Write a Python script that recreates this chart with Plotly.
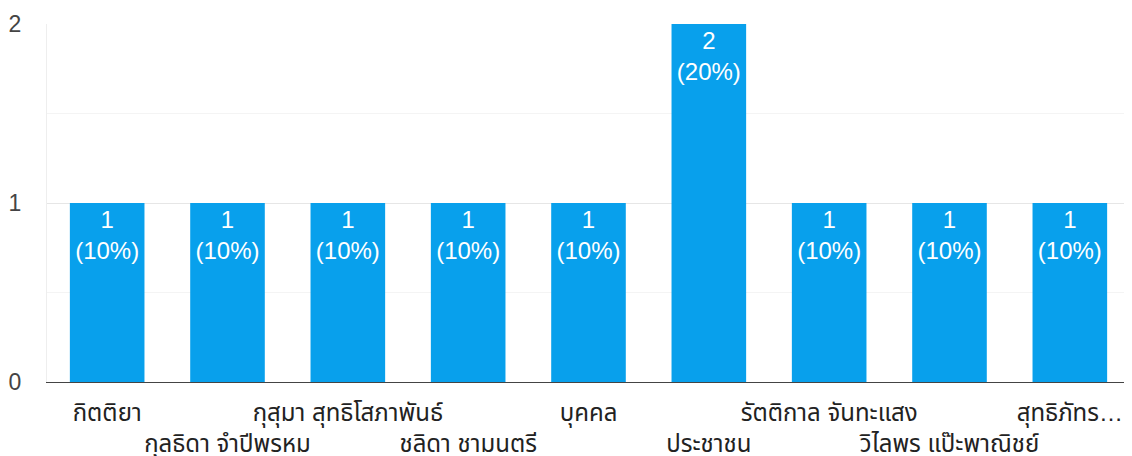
import plotly.graph_objects as go

categories = ["กิตติยา", "กุลธิดา จำปีพรหม", "กุสุมา สุทธิโสภาพันธ์", "ชลิดา ชามนตรี",
              "บุคคล", "ประชาชน", "รัตติกาล จันทะแสง", "วิไลพร แป๊ะพาณิชย์", "สุทธิภัทร…"]
counts = [1, 1, 1, 1, 1, 2, 1, 1, 1]
percents = [10, 10, 10, 10, 10, 20, 10, 10, 10]
y_ticks = [0, 1, 2]

tick_text = [c if i % 2 == 0 else "<br>" + c for i, c in enumerate(categories)]
bar_text = [f"{c}<br>({p}%)" for c, p in zip(counts, percents)]

font_family = "Arial, 'Liberation Sans', 'Noto Sans Thai', sans-serif"

fig = go.Figure(go.Bar(
    x=categories, y=counts, text=bar_text,
    textposition="inside", insidetextanchor="end",
    textfont=dict(color="white", size=24, family=font_family),
    marker=dict(color="#08a0ec", line=dict(width=0)),
    width=0.62, textangle=0, cliponaxis=False,
))

# page body has an 8px default margin, so the figure is 8px smaller
fig.update_layout(
    width=1124, height=448,
    margin=dict(l=39, r=2, t=16, b=74, autoexpand=False),
    paper_bgcolor="white", plot_bgcolor="white",
    showlegend=False,
    font=dict(family=font_family, size=24, color="#222"),
    uniformtext=dict(minsize=10, mode="show"),
)
fig.update_xaxes(
    automargin=False,
    tickmode="array", tickvals=categories, ticktext=tick_text,
    showgrid=False, showline=True, linecolor="#444", linewidth=1,
    ticks="", tickangle=0, ticklabelstandoff=9,
    tickfont=dict(size=24, color="#222"),
)
fig.update_yaxes(
    automargin=False,
    range=[0, 2], tickvals=y_ticks, ticktext=[str(v) for v in y_ticks],
    showgrid=True, gridcolor="#e6e6e6", gridwidth=1,
    minor=dict(tickvals=[0.5, 1.5], showgrid=True, gridcolor="#f4f4f4"),
    showline=True, linecolor="#eeeeee", zeroline=False,
    ticks="", ticklabelstandoff=20,
    tickfont=dict(size=23, color="#444"),
)

fig.write_html("out.html")
